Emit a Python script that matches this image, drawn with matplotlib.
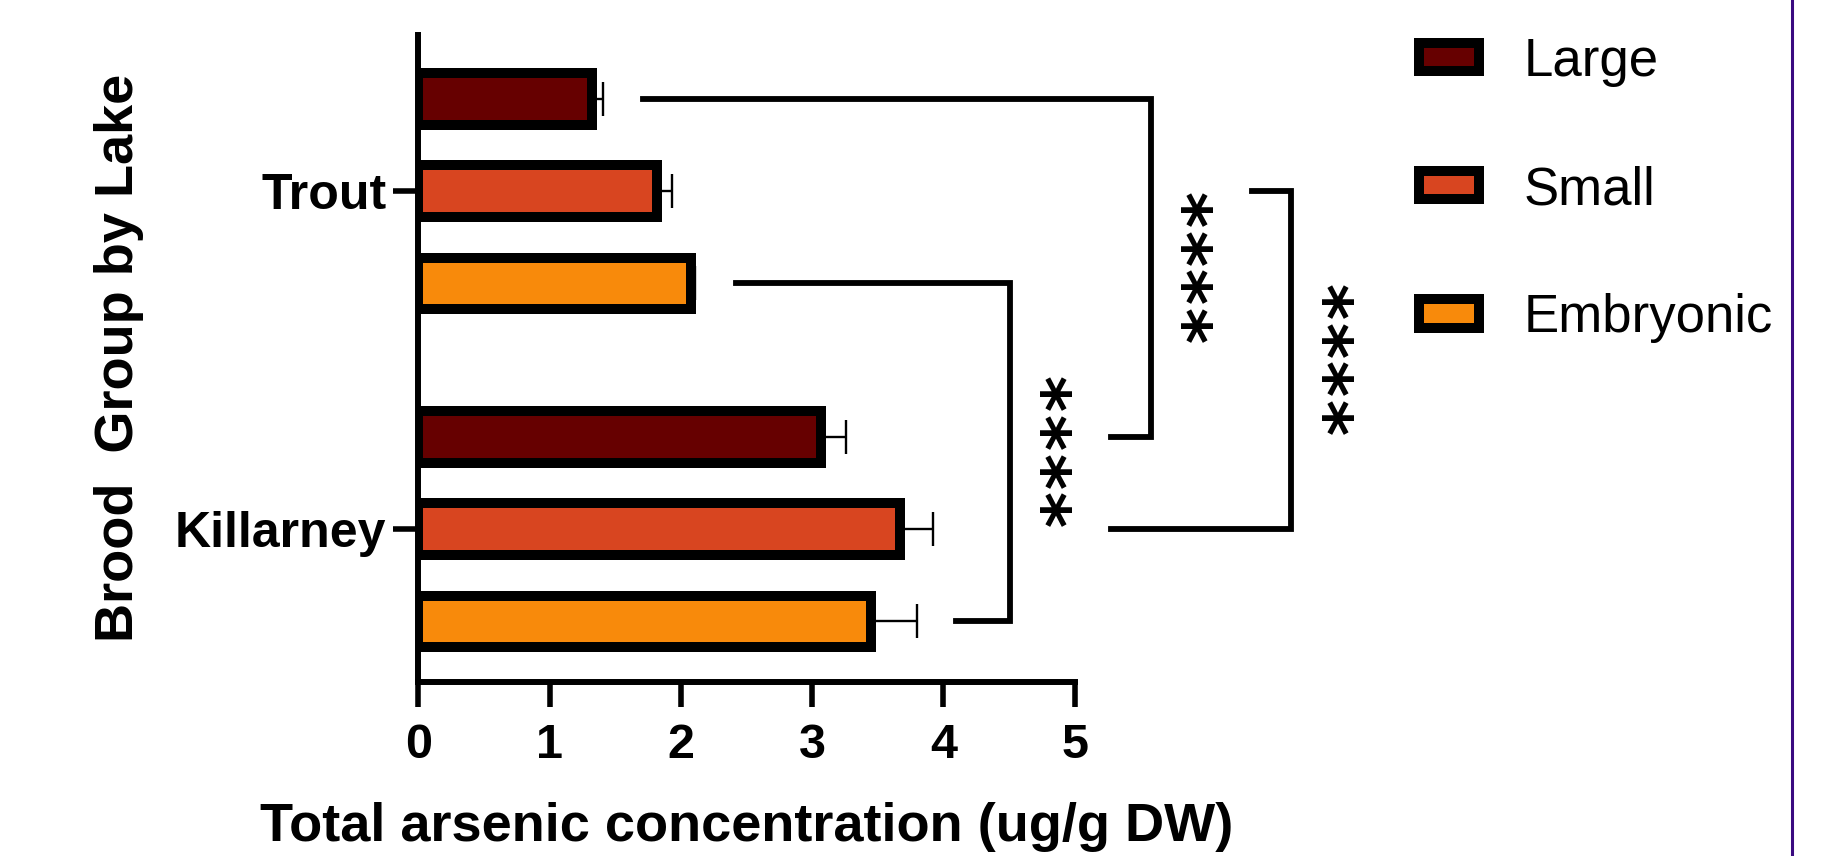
'''
Total arsenic by brood group and lake, horizontal bars with significance brackets
'''

import numpy as np
import matplotlib
matplotlib.use('Agg')
import matplotlib.pyplot as plt
from matplotlib.lines import Line2D

plt.rcParams['font.family'] = ['Liberation Sans', 'DejaVu Sans']

# --- data ---
lakes = ['Trout', 'Killarney']
sizes = ['Large', 'Small', 'Embryonic']
colors = ['#660000', '#d84520', '#f88a0b']

trout_mean = [1.32, 1.82, 2.08]
trout_err = [0.09, 0.11, 0.03]
killarney_mean = [3.07, 3.67, 3.45]
killarney_err = [0.19, 0.25, 0.35]

# comparisons: (size index, bracket start at trout, vertical x, bracket start at killarney, stars x)
brackets = [
    (0, 1.71, 5.58, 5.28, 5.93),
    (2, 2.42, 4.51, 4.10, 4.85),
    (1, 6.35, 6.65, 5.28, 7.00),
]
n_stars = 4

# --- layout ---
W, H = 1831, 856
fig = plt.figure(figsize=(W / 100, H / 100), dpi=100)
ax = fig.add_axes([418.3 / W, (H - 681.7) / H, 656.3 / W, (681.7 - 35) / H])

group_gap = 3.666
pos_trout = np.arange(3)
pos_kill = np.arange(3) + group_gap

for i in range(3):
    ax.barh([pos_trout[i], pos_kill[i]], [trout_mean[i], killarney_mean[i]],
            height=0.56, color=colors[i], edgecolor='black', linewidth=7.2,
            label=sizes[i], zorder=3)
    ax.errorbar([trout_mean[i], killarney_mean[i]], [pos_trout[i], pos_kill[i]],
                xerr=[[0, 0], [trout_err[i], killarney_err[i]]],
                fmt='none', ecolor='black', elinewidth=1.7, capsize=12,
                capthick=1.7, zorder=2)

# significance brackets, stars stacked like rotated "****"
star_step = 0.42
star_shift = -0.13   # glyph sits off-centre in its text box once rotated
for idx, x_top, x_vert, x_bot, x_star in brackets:
    y0, y1 = pos_trout[idx], pos_kill[idx]
    ax.plot([x_top, x_vert, x_vert, x_bot], [y0, y0, y1, y1], color='black',
            lw=4.2, clip_on=False, solid_joinstyle='miter', zorder=4)
    yc = (y0 + y1) / 2
    for k in range(n_stars):
        ax.text(x_star + star_shift, yc + (k - (n_stars - 1) / 2) * star_step, '*',
                rotation=270, fontsize=50, fontweight='bold', family='DejaVu Sans',
                ha='center', va='center', clip_on=False)

ax.set_xlim(0, 5)
ax.set_ylim(6.32, -0.694)
ax.set_xticks(range(6))
ax.set_yticks([pos_trout[1], pos_kill[1]])
ax.set_yticklabels(lakes)

for s in ['top', 'right']:
    ax.spines[s].set_visible(False)
for s in ['left', 'bottom']:
    ax.spines[s].set_linewidth(4.3)

ax.tick_params(axis='x', length=18, width=4, pad=12, labelsize=35)
ax.tick_params(axis='y', length=18, width=4, pad=5, labelsize=36)
for lab in ax.get_xticklabels() + ax.get_yticklabels():
    lab.set_fontweight('bold')

ax.set_xlabel('Total arsenic concentration (ug/g DW)', fontsize=39,
              fontweight='bold', labelpad=24)
ax.set_ylabel('Brood  Group by Lake', fontsize=39, fontweight='bold', labelpad=22)

leg = ax.legend(loc='upper left', bbox_to_anchor=(1419 / W, 1 - 37 / H),
                bbox_transform=fig.transFigure, frameon=False, fontsize=38,
                handlelength=1.14, handleheight=0.45, handletextpad=0.85,
                labelspacing=1.48, borderpad=0, borderaxespad=0)

# purple frame line on the right edge
fig.add_artist(Line2D([1792 / W, 1792 / W], [0, 1], transform=fig.transFigure,
                      color='#3a0a80', lw=2.2))

fig.savefig('out.png', dpi=100)
